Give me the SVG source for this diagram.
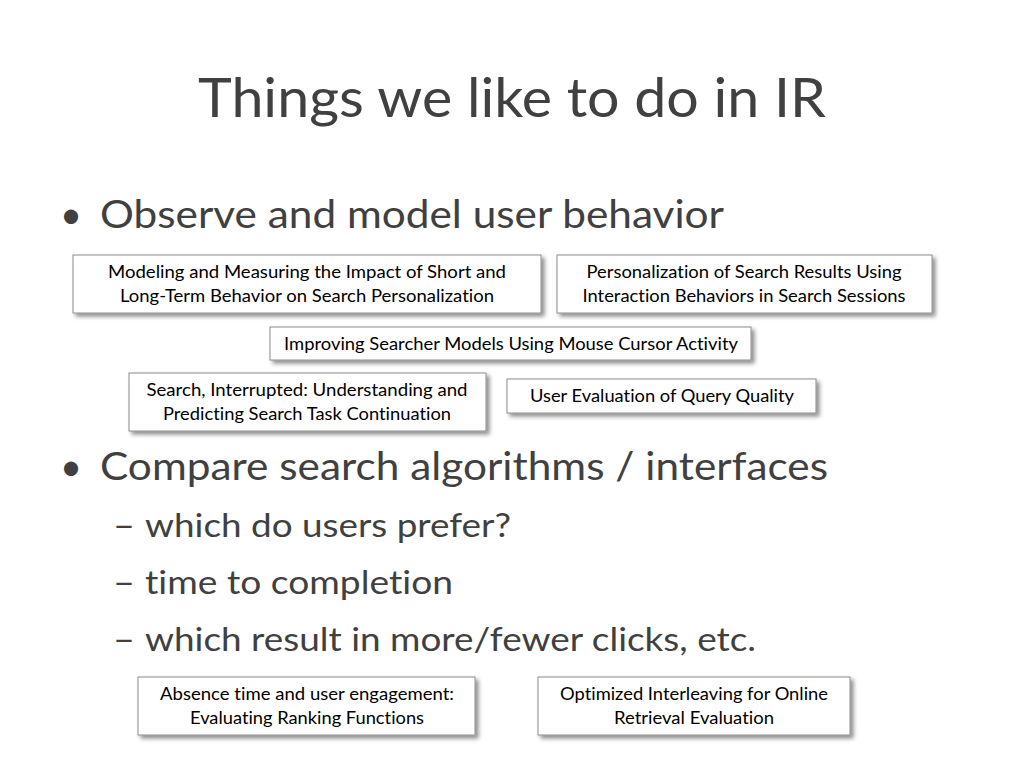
<svg xmlns="http://www.w3.org/2000/svg" width="1024" height="768" viewBox="0 0 1024 768">
<defs>
<filter id="sh" x="-10%" y="-20%" width="120%" height="150%">
<feDropShadow dx="3" dy="3" stdDeviation="2" flood-color="#000" flood-opacity="0.45"/>
</filter>
</defs>
<style>
text{font-family:Lato,"Open Sans","Liberation Sans",sans-serif;fill:#404040;font-variant-ligatures:none}
.t{font-size:54px;text-anchor:middle}
.b1{font-size:38px}
.b2{font-size:33px}
.bx rect{fill:#fff;stroke:#8c8c8c;stroke-width:1;filter:url(#sh)}
.bx text{font-size:16.5px;fill:#000;text-anchor:middle}
</style>
<rect width="1024" height="768" fill="#fff"/>
<text class="t" x="512" y="117" textLength="628" lengthAdjust="spacingAndGlyphs">Things we like to do in IR</text>
<text class="b1" x="60" y="228">•</text>
<text class="b1" x="100" y="228" textLength="624" lengthAdjust="spacingAndGlyphs">Observe and model user behavior</text>
<text class="b1" x="60" y="480">•</text>
<text class="b1" x="100" y="480" textLength="728" lengthAdjust="spacingAndGlyphs">Compare search algorithms / interfaces</text>
<text class="b2" x="113" y="537" textLength="22" lengthAdjust="spacingAndGlyphs">–</text>
<text class="b2" x="145" y="537" textLength="366" lengthAdjust="spacingAndGlyphs">which do users prefer?</text>
<text class="b2" x="113" y="594" textLength="22" lengthAdjust="spacingAndGlyphs">–</text>
<text class="b2" x="145" y="594" textLength="308" lengthAdjust="spacingAndGlyphs">time to completion</text>
<text class="b2" x="113" y="651" textLength="22" lengthAdjust="spacingAndGlyphs">–</text>
<text class="b2" x="145" y="651" textLength="611" lengthAdjust="spacingAndGlyphs">which result in more/fewer clicks, etc.</text>
<g id="n1" class="bx"><rect x="73" y="255" width="468" height="58"/>
<text x="307" y="278" textLength="398" lengthAdjust="spacingAndGlyphs">Modeling and Measuring the Impact of Short and</text>
<text x="307" y="302" textLength="374" lengthAdjust="spacingAndGlyphs">Long-Term Behavior on Search Personalization</text></g>
<g id="n2" class="bx"><rect x="557" y="255" width="375" height="58"/>
<text x="744" y="278" textLength="315" lengthAdjust="spacingAndGlyphs">Personalization of Search Results Using</text>
<text x="744" y="302" textLength="323" lengthAdjust="spacingAndGlyphs">Interaction Behaviors in Search Sessions</text></g>
<g id="n3" class="bx"><rect x="270" y="327" width="481" height="33"/>
<text x="511" y="350" textLength="454" lengthAdjust="spacingAndGlyphs">Improving Searcher Models Using Mouse Cursor Activity</text></g>
<g id="n4" class="bx"><rect x="129" y="373" width="357" height="58"/>
<text x="307" y="396" textLength="321" lengthAdjust="spacingAndGlyphs">Search, Interrupted: Understanding and</text>
<text x="307" y="420" textLength="288" lengthAdjust="spacingAndGlyphs">Predicting Search Task Continuation</text></g>
<g id="n5" class="bx"><rect x="507" y="379" width="309" height="34"/>
<text x="662" y="402" textLength="264" lengthAdjust="spacingAndGlyphs">User Evaluation of Query Quality</text></g>
<g id="n6" class="bx"><rect x="138" y="677" width="337" height="58"/>
<text x="307" y="700" textLength="294" lengthAdjust="spacingAndGlyphs">Absence time and user engagement:</text>
<text x="307" y="724" textLength="234" lengthAdjust="spacingAndGlyphs">Evaluating Ranking Functions</text></g>
<g id="n7" class="bx"><rect x="538" y="677" width="312" height="58"/>
<text x="694" y="700" textLength="268" lengthAdjust="spacingAndGlyphs">Optimized Interleaving for Online</text>
<text x="694" y="724" textLength="160" lengthAdjust="spacingAndGlyphs">Retrieval Evaluation</text></g>
<g id="connectors"></g>
</svg>
